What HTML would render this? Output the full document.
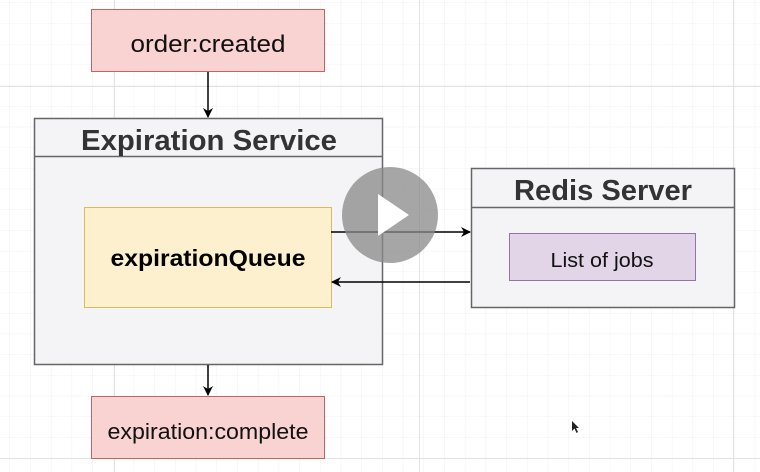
<!DOCTYPE html>
<html><head><meta charset="utf-8"><style>
html,body{margin:0;padding:0;background:#fff;}
svg{display:block;font-family:"Liberation Sans",Arial,sans-serif;}
</style></head><body>
<svg width="760" height="472" viewBox="0 0 760 472" xmlns="http://www.w3.org/2000/svg">
<defs>
<pattern id="g" width="20.7" height="20.7" patternUnits="userSpaceOnUse" x="10" y="3">
<path d="M20.7 0V20.7M0 20.7H20.7" fill="none" stroke="#f0f0f0" stroke-width="1"/>
</pattern>
<marker id="a" markerWidth="10" markerHeight="10" refX="9" refY="5" orient="auto" markerUnits="userSpaceOnUse">
<path d="M0,0 L10,5 L0,10 L3,5 Z" fill="#000"/>
</marker>
</defs>
<rect width="760" height="472" fill="#fff"/>
<rect width="760" height="472" fill="url(#g)"/>
<g stroke="#e2e2e2" stroke-width="1">
<line x1="114.5" y1="0" x2="114.5" y2="472"/><line x1="419.5" y1="0" x2="419.5" y2="472"/><line x1="733.5" y1="0" x2="733.5" y2="472"/>
<line x1="0" y1="86.5" x2="760" y2="86.5"/><line x1="0" y1="458.5" x2="760" y2="458.5"/>
</g>
<rect x="91.5" y="9.5" width="233" height="62" fill="#f8d3d1" stroke="#c2645f"/>
<text x="208" y="52" font-size="24" text-anchor="middle" fill="#111" textLength="155" lengthAdjust="spacingAndGlyphs">order:created</text>
<line x1="208" y1="72" x2="208" y2="117" stroke="#000" stroke-width="1.5" marker-end="url(#a)"/>
<rect x="34.5" y="118.5" width="348" height="246" fill="#f4f3f6" stroke="#666" stroke-width="1.5"/>
<line x1="34.5" y1="156.5" x2="382.5" y2="156.5" stroke="#666" stroke-width="1.5"/>
<text x="209" y="150" font-size="29" font-weight="bold" text-anchor="middle" fill="#333" textLength="256" lengthAdjust="spacingAndGlyphs">Expiration Service</text>
<rect x="84.5" y="207.5" width="247" height="100" fill="#fdf0cf" stroke="#dfb95a"/>
<text x="208" y="266" font-size="23" font-weight="bold" text-anchor="middle" fill="#000" textLength="195" lengthAdjust="spacingAndGlyphs">expirationQueue</text>
<rect x="471.5" y="168.5" width="263" height="139" fill="#f4f3f6" stroke="#666" stroke-width="1.5"/>
<line x1="471.5" y1="207.5" x2="734.5" y2="207.5" stroke="#666" stroke-width="1.5"/>
<text x="603" y="200" font-size="29" font-weight="bold" text-anchor="middle" fill="#333" textLength="178" lengthAdjust="spacingAndGlyphs">Redis Server</text>
<rect x="509.5" y="233.5" width="186" height="47" fill="#e1d5e7" stroke="#9673a6"/>
<text x="602" y="267" font-size="20" text-anchor="middle" fill="#111" textLength="103" lengthAdjust="spacingAndGlyphs">List of jobs</text>
<line x1="331" y1="232" x2="470" y2="232" stroke="#000" stroke-width="1.5" marker-end="url(#a)"/>
<line x1="470" y1="282" x2="332" y2="282" stroke="#000" stroke-width="1.5" marker-end="url(#a)"/>
<line x1="208" y1="365" x2="208" y2="395" stroke="#000" stroke-width="1.5" marker-end="url(#a)"/>
<rect x="91.5" y="396.5" width="233" height="62" fill="#f8d3d1" stroke="#c2645f"/>
<text x="208" y="439" font-size="22" text-anchor="middle" fill="#111" textLength="201" lengthAdjust="spacingAndGlyphs">expiration:complete</text>
<circle cx="390" cy="215" r="48" fill="#888" fill-opacity="0.75"/>
<path d="M378 194 L378 236 L409 215 Z" fill="#fff"/>
<path d="M572 421 L572 431 L574.5 428.5 L576.5 433 L578 432 L576 428 L579 428 Z" fill="#222"/>
</svg>
</body></html>
